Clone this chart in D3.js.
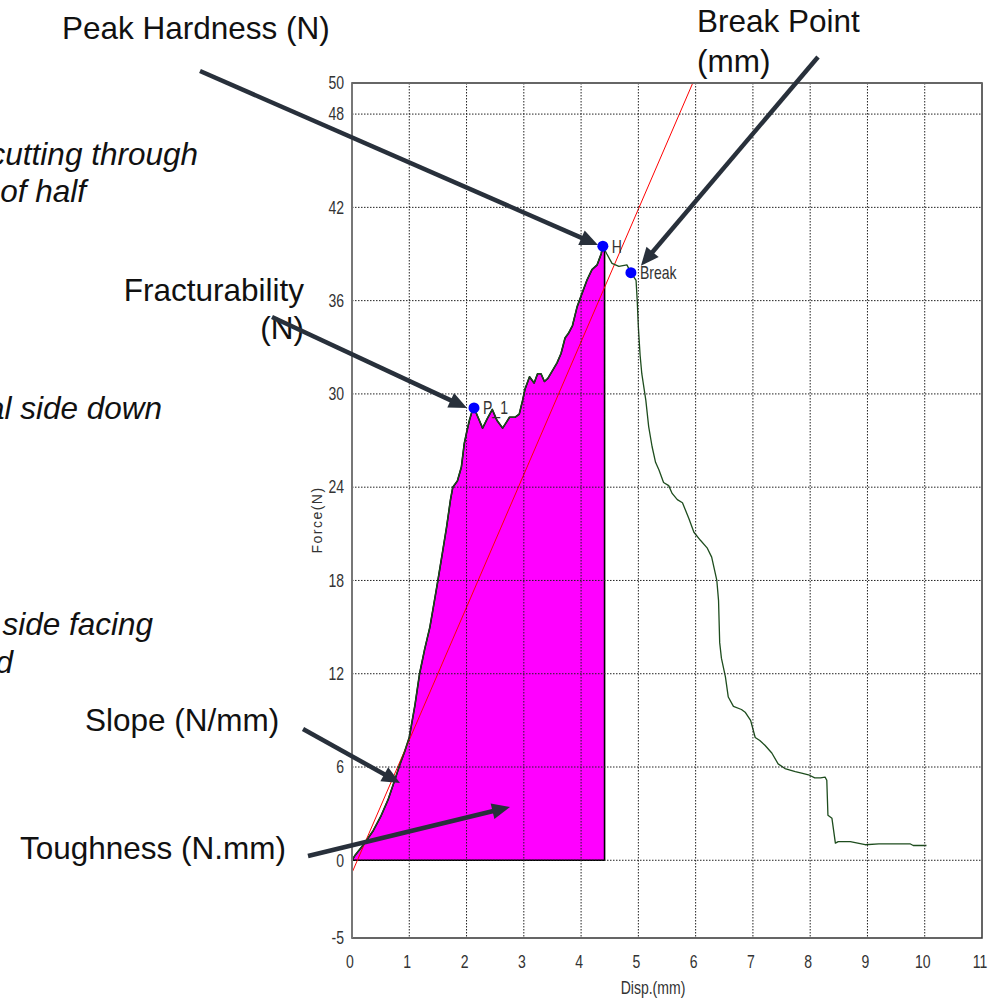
<!DOCTYPE html>
<html>
<head>
<meta charset="utf-8">
<script src="https://cdn.jsdelivr.net/npm/d3@7"></script>
<style>
  html, body { margin: 0; padding: 0; background: #fff; }
  svg { display: block; }
</style>
</head>
<body>
<svg id="chart" width="1001" height="1000"></svg>
<script>
// force / displacement trace
const dispMm = [
  0.00, 0.05, 0.20, 0.37, 0.50, 0.63, 0.75, 0.83, 0.92, 1.00,
  1.10, 1.18, 1.27, 1.36, 1.43, 1.50, 1.58, 1.65, 1.72, 1.76,
  1.84, 1.91, 1.96, 2.00, 2.05, 2.09, 2.13, 2.20, 2.28, 2.36,
  2.45, 2.53, 2.63, 2.70, 2.75, 2.85, 2.92, 2.98, 3.02, 3.10,
  3.18, 3.24, 3.30, 3.36, 3.42, 3.50, 3.58, 3.65, 3.72, 3.78,
  3.85, 3.93, 4.02, 4.10, 4.19, 4.28, 4.35, 4.38, 4.45, 4.54,
  4.66, 4.80, 4.87, 4.96, 4.98, 5.00, 5.03, 5.06, 5.13, 5.18,
  5.24, 5.30, 5.36, 5.44, 5.53, 5.59, 5.68, 5.77, 5.88, 5.97,
  6.08, 6.20, 6.28, 6.37, 6.40, 6.42, 6.45, 6.52, 6.57, 6.66,
  6.80, 6.87, 6.96, 7.04, 7.12, 7.21, 7.33, 7.44, 7.56, 7.65,
  7.74, 7.85, 7.97, 8.08, 8.18, 8.26, 8.29, 8.31, 8.38, 8.44,
  8.49, 8.70, 8.96, 9.20, 9.50, 9.75, 9.80, 10.03
];
const forceN = [
  0.0, 0.3, 1.0, 1.9, 2.8, 3.9, 5.2, 6.1, 7.0, 7.9,
  10.0, 12.0, 13.6, 15.0, 16.5, 18.0, 19.8, 21.4, 23.2, 24.0,
  24.4, 25.3, 26.8, 27.5, 28.3, 28.8, 29.1, 28.5, 27.8, 28.4,
  29.0, 28.3, 27.8, 28.2, 28.5, 28.5, 28.7, 29.6, 30.3, 31.1,
  30.7, 31.3, 31.3, 30.8, 31.0, 31.5, 32.0, 32.6, 33.6, 33.9,
  34.4, 35.6, 36.5, 37.3, 38.0, 38.3, 39.0, 39.5, 39.0, 38.4,
  38.2, 38.3, 37.8, 37.3, 36.0, 34.3, 32.5, 31.3, 29.6, 27.9,
  26.6, 25.6, 25.1, 24.3, 24.1, 23.6, 23.2, 23.0, 22.0, 21.1,
  20.6, 20.1, 19.5, 18.0, 16.7, 14.0, 13.0, 11.8, 10.5, 9.9,
  9.7, 9.5, 9.0, 7.9, 7.7, 7.4, 6.9, 6.2, 5.9, 5.8,
  5.7, 5.6, 5.5, 5.3, 5.3, 5.35, 5.15, 2.9, 2.7, 1.1,
  1.2, 1.2, 1.0, 1.05, 1.05, 1.05, 0.95, 0.95
];

// marked points
const pointNames = ['P_1', 'H', 'Break'];
const pointDisp = [2.13, 4.38, 4.87];
const pointForce = [29.1, 39.5, 37.8];

// toughness area ends here
const toughEnd = 4.41;

// slope (gradient) line
const slopeDisp = [0, 5.95];
const slopeForce = [-0.8, 50];

// axes
const xTicks = [0, 1, 2, 3, 4, 5, 6, 7, 8, 9, 10, 11];
const xGrid = [1, 2, 3, 4, 5, 6, 7, 8, 9, 10];
const yTicks = [-5, 0, 6, 12, 18, 24, 30, 36, 42, 48, 50];
const yGrid = [0, 6, 12, 18, 24, 30, 36, 42, 48];

// annotation labels and where their arrows point (tips in data units)
const noteLines = [
  { text: 'Peak Hardness (N)', x: 62, y: 39, anchor: 'start' },
  { text: 'Break Point', x: 697, y: 32, anchor: 'start' },
  { text: '(mm)', x: 697, y: 72, anchor: 'start' },
  { text: 'Fracturability', x: 304, y: 301, anchor: 'end' },
  { text: '(N)', x: 304, y: 339, anchor: 'end' },
  { text: 'Slope (N/mm)', x: 85, y: 731, anchor: 'start' },
  { text: 'Toughness (N.mm)', x: 20, y: 859, anchor: 'start' }
];
const sideLines = [
  { text: 'cutting through', x: 198, y: 165 },
  { text: 'of half', x: 86, y: 202 },
  { text: 'al side down', x: 162, y: 419 },
  { text: 'side facing', x: 153, y: 635 },
  { text: 'd', x: 13, y: 673 }
];
const arrowFrom = [[200, 71], [818, 57], [272, 317], [303, 729], [308, 856]];
const arrowTipDisp = [4.295, 5.045, 2.008, 0.838, 2.759];
const arrowTipForce = [39.58, 38.25, 29.1, 4.97, 3.43];

const PLOT = { left: 352, right: 982, top: 83, bottom: 938 };
const TICK_FONT = "'Liberation Sans', Arial, sans-serif";
const TICK_SQUEEZE = 0.78;
const NOTE_FONT = "'Liberation Sans', Arial, Helvetica, sans-serif";
const ARROW_COLOR = '#28303b';

const svg = d3.select('#chart');

const x = d3.scaleLinear().domain([0, 11]).range([PLOT.left, PLOT.right]);
const y = d3.scaleLinear().domain([-5, 50]).range([PLOT.bottom, PLOT.top]);

svg.append('defs')
  .append('clipPath')
  .attr('id', 'plotClip')
  .append('rect')
  .attr('x', PLOT.left)
  .attr('y', PLOT.top)
  .attr('width', PLOT.right - PLOT.left)
  .attr('height', PLOT.bottom - PLOT.top);

const trace = dispMm.map((d, i) => ({ x: d, y: forceN[i] }));

// toughness fill (area under the curve up to the peak)
const fillPts = trace.filter((d) => d.x <= toughEnd);
const lastF = fillPts[fillPts.length - 1].y;
const fillPoly = fillPts.concat([{ x: toughEnd, y: lastF }, { x: toughEnd, y: 0 }, { x: 0, y: 0 }]);

const plotG = svg.append('g').attr('clip-path', 'url(#plotClip)');

plotG.append('path')
  .datum(fillPoly)
  .attr('d', d3.line().x((d) => x(d.x)).y((d) => y(d.y)))
  .attr('fill', '#ff00ff')
  .attr('stroke', '#000')
  .attr('stroke-width', 1.6)
  .attr('stroke-linejoin', 'round');

// grid
const gridG = svg.append('g').attr('class', 'grid');
gridG.selectAll('line.vg')
  .data(xGrid)
  .join('line')
  .attr('class', 'vg')
  .attr('x1', (d) => x(d)).attr('x2', (d) => x(d))
  .attr('y1', PLOT.top).attr('y2', PLOT.bottom)
  .attr('stroke', '#222')
  .attr('stroke-width', 1)
  .attr('stroke-dasharray', '1.5,1.5');
gridG.selectAll('line.hg')
  .data(yGrid)
  .join('line')
  .attr('class', 'hg')
  .attr('x1', PLOT.left).attr('x2', PLOT.right)
  .attr('y1', (d) => y(d)).attr('y2', (d) => y(d))
  .attr('stroke', '#222')
  .attr('stroke-width', 1)
  .attr('stroke-dasharray', '1.5,1.5');

// slope line
plotG.append('line')
  .attr('x1', x(slopeDisp[0])).attr('y1', y(slopeForce[0]))
  .attr('x2', x(slopeDisp[1])).attr('y2', y(slopeForce[1]))
  .attr('stroke', '#ff0000')
  .attr('stroke-width', 1);

// the force trace
plotG.append('path')
  .datum(trace)
  .attr('d', d3.line().x((d) => x(d.x)).y((d) => y(d.y)))
  .attr('fill', 'none')
  .attr('stroke', '#1e4d1e')
  .attr('stroke-width', 1.3)
  .attr('stroke-linejoin', 'round');

// frame
svg.append('rect')
  .attr('x', PLOT.left).attr('y', PLOT.top)
  .attr('width', PLOT.right - PLOT.left)
  .attr('height', PLOT.bottom - PLOT.top)
  .attr('fill', 'none')
  .attr('stroke', '#333')
  .attr('stroke-width', 1.5);
svg.append('line')
  .attr('x1', PLOT.left).attr('x2', PLOT.left)
  .attr('y1', PLOT.top).attr('y2', PLOT.bottom)
  .attr('stroke', '#777')
  .attr('stroke-width', 2);
svg.append('line')
  .attr('x1', PLOT.left).attr('x2', PLOT.right)
  .attr('y1', PLOT.top).attr('y2', PLOT.top)
  .attr('stroke', '#666')
  .attr('stroke-width', 2);

// narrow tick-style text: squeeze horizontally around its anchor
function squeezed(sel, fx, fy) {
  return sel.attr('transform', (d) => `translate(${fx(d)},${fy(d)}) scale(${TICK_SQUEEZE},1)`);
}

// axis labels
squeezed(
  svg.append('g')
    .selectAll('text')
    .data(yTicks)
    .join('text'),
  () => PLOT.left - 8,
  (d) => y(d)
)
  .attr('dy', '0.35em')
  .attr('text-anchor', 'end')
  .attr('font-family', TICK_FONT)
  .attr('font-size', 18)
  .attr('fill', '#333')
  .text((d) => d);

squeezed(
  svg.append('g')
    .selectAll('text')
    .data(xTicks)
    .join('text'),
  (d) => x(d) - 2,
  () => 962
)
  .attr('dy', '0.35em')
  .attr('text-anchor', 'middle')
  .attr('font-family', TICK_FONT)
  .attr('font-size', 18)
  .attr('fill', '#333')
  .text((d) => d);

svg.append('text')
  .attr('transform', `translate(653,988) scale(${TICK_SQUEEZE},1)`)
  .attr('dy', '0.35em')
  .attr('text-anchor', 'middle')
  .attr('font-family', TICK_FONT)
  .attr('font-size', 18)
  .attr('fill', '#333')
  .text('Disp.(mm)');

svg.append('text')
  .attr('transform', 'translate(317,520) rotate(-90)')
  .attr('dy', '0.35em')
  .attr('text-anchor', 'middle')
  .attr('font-family', TICK_FONT)
  .attr('font-size', 14)
  .attr('letter-spacing', 1.5)
  .attr('fill', '#333')
  .text('Force(N)');

// marked points
const marks = pointNames.map((n, i) => ({ name: n, x: pointDisp[i], y: pointForce[i] }));
svg.append('g')
  .selectAll('circle')
  .data(marks)
  .join('circle')
  .attr('cx', (d) => x(d.x))
  .attr('cy', (d) => y(d.y))
  .attr('r', 5.5)
  .attr('fill', '#0000ff');
squeezed(
  svg.append('g')
    .selectAll('text')
    .data(marks)
    .join('text'),
  (d) => x(d.x) + 9,
  (d) => y(d.y)
)
  .attr('dy', '0.35em')
  .attr('font-family', TICK_FONT)
  .attr('font-size', 18)
  .attr('fill', '#333')
  .text((d) => d.name);

// annotations
const noteG = svg.append('g');
noteG.selectAll('text.note')
  .data(noteLines)
  .join('text')
  .attr('class', 'note')
  .attr('x', (d) => d.x)
  .attr('y', (d) => d.y)
  .attr('text-anchor', (d) => d.anchor)
  .attr('font-family', NOTE_FONT)
  .attr('font-size', 31.5)
  .attr('fill', '#111')
  .text((d) => d.text);
noteG.selectAll('text.side')
  .data(sideLines)
  .join('text')
  .attr('class', 'side')
  .attr('x', (d) => d.x)
  .attr('y', (d) => d.y)
  .attr('text-anchor', 'end')
  .attr('font-family', NOTE_FONT)
  .attr('font-style', 'italic')
  .attr('font-size', 31.5)
  .attr('fill', '#111')
  .text((d) => d.text);

// arrows
const arrows = arrowFrom.map((f, i) => ({
  x1: f[0], y1: f[1],
  x2: x(arrowTipDisp[i]), y2: y(arrowTipForce[i])
}));
const HEAD_LEN = 18;
const HEAD_HALF = 8;
arrows.forEach((a) => {
  const dx = a.x2 - a.x1;
  const dy = a.y2 - a.y1;
  const len = Math.hypot(dx, dy);
  const ux = dx / len;
  const uy = dy / len;
  const bx = a.x2 - ux * HEAD_LEN;
  const by = a.y2 - uy * HEAD_LEN;
  noteG.append('line')
    .attr('x1', a.x1).attr('y1', a.y1)
    .attr('x2', bx + ux * 2).attr('y2', by + uy * 2)
    .attr('stroke', ARROW_COLOR)
    .attr('stroke-width', 4.5);
  noteG.append('path')
    .attr('d', `M${a.x2},${a.y2}L${bx - uy * HEAD_HALF},${by + ux * HEAD_HALF}L${bx + uy * HEAD_HALF},${by - ux * HEAD_HALF}Z`)
    .attr('fill', ARROW_COLOR);
});
</script>
</body>
</html>
